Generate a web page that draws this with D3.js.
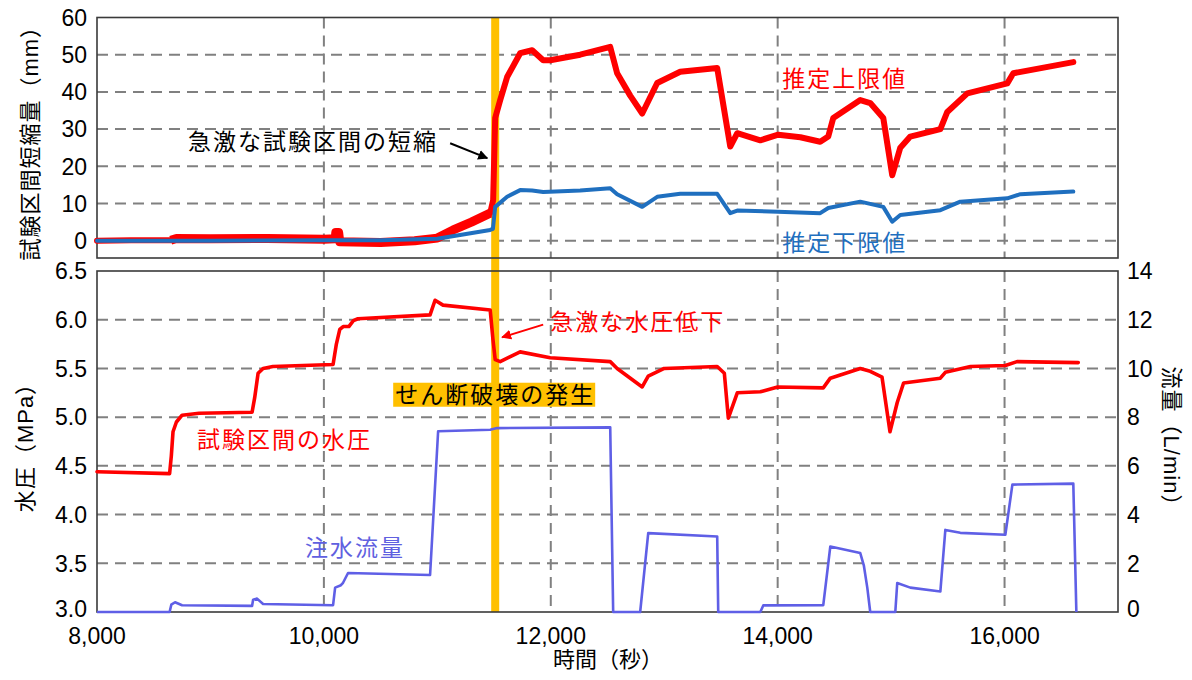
<!DOCTYPE html>
<html>
<head>
<meta charset="utf-8">
<script src="https://cdn.jsdelivr.net/npm/d3@7"></script>
<style>
  body{margin:0;background:#fff;}
  text{font-family:"Liberation Sans","Noto Sans CJK JP",sans-serif;}
</style>
</head>
<body>
<script>
// time (s) / value pairs
var upperData=[[8000,0],[8300,0.1],[8650,0.1],[8700,0.6],[9000,0.5],[9500,0.6],[10000,0.4],[10100,0.5],[10105,2.2],[10130,2.2],[10140,-0.3],[10500,-0.5],[10800,0],[11000,0.7],[11140,2.9],[11300,5],[11466,7.4],[11492,10.9],[11510,33],[11554,37.8],[11615,44],[11730,50.4],[11836,51.2],[11933,48.5],[11995,48.5],[12259,50],[12524,52.1],[12585,45],[12700,39],[12806,34.2],[12938,42.4],[13141,45.4],[13467,46.4],[13582,25.3],[13644,28.9],[13847,27],[14005,28.5],[14200,27.8],[14375,26.6],[14446,28],[14490,33],[14728,37.8],[14816,37],[14931,33],[15010,17.6],[15081,25],[15169,28],[15434,30],[15495,34.6],[15672,39.6],[16024,42.3],[16077,45],[16606,48]];
var lowerData=[[8000,0],[9000,0],[10000,0.1],[10500,0.1],[11000,0.5],[11466,2.9],[11490,3.2],[11510,9.1],[11615,11.8],[11730,13.6],[11836,13.5],[11933,13.1],[12259,13.5],[12524,14.1],[12585,12.5],[12806,9.1],[12938,11.8],[13141,12.6],[13467,12.6],[13582,7.4],[13644,8.1],[14000,7.8],[14375,7.4],[14446,8.8],[14728,10.5],[14931,9.1],[15010,5.1],[15081,6.9],[15434,8.2],[15610,10.5],[16024,11.4],[16140,12.5],[16606,13.2]];
var pressureData=[[8000,4.44],[8640,4.42],[8655,4.6],[8670,4.85],[8700,4.95],[8750,5.02],[8900,5.04],[9367,5.05],[9390,5.2],[9420,5.45],[9464,5.5],[9550,5.52],[10081,5.54],[10110,5.75],[10140,5.9],[10170,5.93],[10220,5.93],[10260,5.99],[10300,6.01],[10936,6.05],[10980,6.2],[11050,6.15],[11466,6.1],[11490,5.8],[11510,5.59],[11554,5.57],[11730,5.67],[11995,5.61],[12524,5.57],[12585,5.5],[12806,5.31],[12859,5.42],[13000,5.5],[13467,5.52],[13530,5.45],[13565,4.99],[13644,5.25],[13847,5.26],[14000,5.31],[14402,5.3],[14464,5.4],[14728,5.5],[14816,5.47],[14920,5.41],[14990,4.85],[15054,5.15],[15110,5.35],[15434,5.4],[15478,5.46],[15700,5.52],[16007,5.53],[16110,5.57],[16650,5.56]];
var flowData=[[8000,0],[8640,0],[8655,0.3],[8688,0.4],[8750,0.28],[9367,0.25],[9376,0.5],[9411,0.55],[9464,0.33],[10081,0.28],[10099,1.0],[10150,1.1],[10169,1.2],[10213,1.6],[10936,1.52],[11007,7.42],[11466,7.48],[11527,7.55],[12524,7.58],[12550,0],[12788,0],[12859,3.24],[13467,3.1],[13476,0],[13847,0],[13873,0.27],[14402,0.28],[14464,2.69],[14728,2.42],[14760,1.9],[14790,1.0],[14816,0],[15037,0],[15054,1.19],[15169,1.0],[15434,0.84],[15478,3.37],[15610,3.25],[16007,3.17],[16069,5.23],[16606,5.27],[16633,0]];

var xTicks=[8000,10000,12000,14000,16000];
var topTicks=[0,10,20,30,40,50,60];
var pressTicks=[3.0,3.5,4.0,4.5,5.0,5.5,6.0,6.5];
var flowTicks=[0,2,4,6,8,10,12,14];
var breakTime=11510;

var W=1192,H=680;
var svg=d3.select("body").append("svg").attr("width",W).attr("height",H);

var x=d3.scaleLinear().domain([8000,17000]).range([97,1118]);
var yTop=d3.scaleLinear().domain([-4.65,60]).range([258,17.5]);
var yP=d3.scaleLinear().domain([3,6.5]).range([612,271]);
var yF=d3.scaleLinear().domain([0,14]).range([612,271]);

var gridCol="#808080";
var dash="11,7";

// grids
function vgrid(y0,y1){
  svg.append("g").selectAll("line").data(xTicks.slice(1)).enter().append("line")
     .attr("x1",function(d){return x(d);}).attr("x2",function(d){return x(d);})
     .attr("y1",y0).attr("y2",y1)
     .attr("stroke",gridCol).attr("stroke-width",2).attr("stroke-dasharray",dash);
}
function hgrid(ticks,scale){
  svg.append("g").selectAll("line").data(ticks).enter().append("line")
     .attr("x1",x.range()[0]).attr("x2",x.range()[1])
     .attr("y1",function(d){return scale(d);}).attr("y2",function(d){return scale(d);})
     .attr("stroke",gridCol).attr("stroke-width",2).attr("stroke-dasharray",dash);
}
vgrid(yTop.range()[1],yTop.range()[0]);
hgrid(topTicks.slice(0,-1),yTop);
vgrid(yP.range()[1],yP.range()[0]);
hgrid(pressTicks.slice(1,-1),yP);

// shear failure band
svg.append("rect").attr("x",x(breakTime)-4).attr("width",8)
   .attr("y",yTop.range()[1]).attr("height",yP.range()[0]-yTop.range()[1])
   .attr("fill","#FFC000");

// frames
svg.append("rect").attr("x",97).attr("y",yTop.range()[1]).attr("width",1118-97).attr("height",yTop.range()[0]-yTop.range()[1])
   .attr("fill","none").attr("stroke","#3a3a3a").attr("stroke-width",1.6);
svg.append("rect").attr("x",97).attr("y",yP.range()[1]).attr("width",1118-97).attr("height",yP.range()[0]-yP.range()[1])
   .attr("fill","none").attr("stroke","#3a3a3a").attr("stroke-width",1.6);

// lines
var lineTop=d3.line().x(function(d){return x(d[0]);}).y(function(d){return yTop(d[1]);});
var lineP=d3.line().x(function(d){return x(d[0]);}).y(function(d){return yP(d[1]);});
var lineF=d3.line().x(function(d){return x(d[0]);}).y(function(d){return yF(d[1]);});

// noisy part of the upper estimate looks thicker
svg.append("path").datum(upperData.filter(function(d){return d[0]>=8650&&d[0]<=11466;}))
   .attr("d",lineTop).attr("fill","none").attr("stroke","#ff0000").attr("stroke-width",9).attr("stroke-linejoin","round");
svg.append("path").datum(upperData).attr("d",lineTop)
   .attr("fill","none").attr("stroke","#ff0000").attr("stroke-width",6).attr("stroke-linejoin","round").attr("stroke-linecap","round");
svg.append("path").datum(lowerData).attr("d",lineTop)
   .attr("fill","none").attr("stroke","#1f6fbf").attr("stroke-width",4).attr("stroke-linejoin","round").attr("stroke-linecap","round");

svg.append("path").datum(flowData).attr("d",lineF)
   .attr("fill","none").attr("stroke","#5f5fe6").attr("stroke-width",2.6).attr("stroke-linejoin","round");
svg.append("path").datum(pressureData).attr("d",lineP)
   .attr("fill","none").attr("stroke","#ff0000").attr("stroke-width",3.6).attr("stroke-linejoin","round").attr("stroke-linecap","round");

// tick labels
var fs=23;
svg.append("g").selectAll("text").data(topTicks).enter().append("text")
   .attr("x",87).attr("y",function(d){return yTop(d);}).attr("dy","0.36em")
   .attr("text-anchor","end").attr("font-size",fs).text(function(d){return d;});
svg.append("g").selectAll("text").data(pressTicks).enter().append("text")
   .attr("x",87).attr("y",function(d){return yP(d);}).attr("dy",function(d,i){return i==0?"0.2em":"0.36em";})
   .attr("text-anchor","end").attr("font-size",fs).text(function(d){return d3.format(".1f")(d);});
svg.append("g").selectAll("text").data(flowTicks).enter().append("text")
   .attr("x",1127).attr("y",function(d){return yF(d);}).attr("dy",function(d,i){return i==0?"0.2em":"0.36em";})
   .attr("text-anchor","start").attr("font-size",fs).text(function(d){return d;});
svg.append("g").selectAll("text").data(xTicks).enter().append("text")
   .attr("x",function(d){return x(d);}).attr("y",644)
   .attr("text-anchor","middle").attr("font-size",fs).text(function(d){return d3.format(",")(d);});

// axis titles
svg.append("text").attr("transform","translate(30,"+((yTop.range()[0]+yTop.range()[1])/2)+") rotate(-90)")
   .attr("text-anchor","middle").attr("dy","0.36em").attr("font-size",22).attr("letter-spacing",1).text("試験区間短縮量（mm）");
svg.append("text").attr("transform","translate(25,442) rotate(-90)")
   .attr("text-anchor","middle").attr("dy","0.36em").attr("font-size",22).attr("letter-spacing",1).text("水圧（MPa）");
svg.append("text").attr("transform","translate(1172,442) rotate(90)")
   .attr("text-anchor","middle").attr("dy","0.36em").attr("font-size",22).attr("letter-spacing",1).text("流量（L/min）");
svg.append("text").attr("x",608).attr("y",667).attr("text-anchor","middle")
   .attr("font-size",22).text("時間（秒）");

// annotations
var defs=svg.append("defs");
function marker(id,col){
  defs.append("marker").attr("id",id).attr("viewBox","0 0 10 10").attr("refX",9).attr("refY",5)
      .attr("markerWidth",5).attr("markerHeight",5).attr("orient","auto")
      .append("path").attr("d","M0,0 L10,5 L0,10 z").attr("fill",col);
}
marker("ab","#000");
marker("ar","#ff0000");

var afs=23, ls=2;
function note(t,yv,scale,str,col){
  return svg.append("text").attr("x",x(t)).attr("y",scale(yv)).attr("dy","0.36em")
     .attr("font-size",afs).attr("letter-spacing",ls).attr("fill",col).text(str);
}
note(8802,26.5,yTop,"急激な試験区間の短縮","#000");
svg.append("line").attr("x1",x(11113)).attr("y1",yTop(26.2)).attr("x2",x(11440)).attr("y2",yTop(22.2))
   .attr("stroke","#000").attr("stroke-width",2).attr("marker-end","url(#ab)");
note(14040,43.5,yTop,"推定上限値","#ff0000");
note(14040,-0.6,yTop,"推定下限値","#1f6fbf");

note(11995,5.98,yP,"急激な水圧低下","#ff0000");
svg.append("line").attr("x1",x(11933)).attr("y1",yP(5.95)).attr("x2",x(11571)).attr("y2",yP(5.82))
   .attr("stroke","#ff0000").attr("stroke-width",2).attr("marker-end","url(#ar)");
note(8882,4.77,yP,"試験区間の水圧","#ff0000");
note(9834,3.66,yP,"注水流量","#6060e0");

var lab=svg.append("g");
var lt=lab.append("text").attr("x",x(breakTime)).attr("y",yP(5.23)).attr("dy","0.36em")
   .attr("text-anchor","middle").attr("font-size",afs).attr("letter-spacing",ls).attr("fill","#000").text("せん断破壊の発生");
var bb=lt.node().getBBox();
lab.insert("rect","text").attr("x",bb.x-2).attr("y",yP(5.23)-12).attr("width",bb.width+2).attr("height",24).attr("fill","#FFC000");
</script>
</body>
</html>
